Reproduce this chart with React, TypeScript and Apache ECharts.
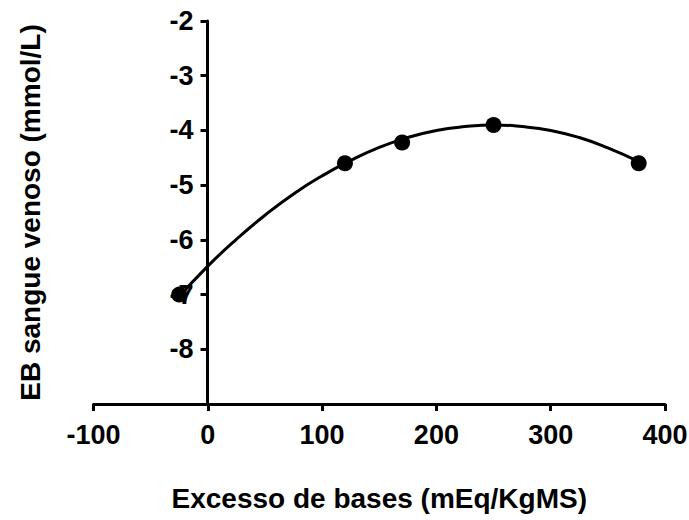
import React, { useEffect, useRef } from "react";
import * as echarts from "echarts";

const pointX = [-25, 120, 170, 250, 377];
const pointY = [-7.0, -4.6, -4.22, -3.9, -4.6];

const curveX = [-27, 0, 25, 50, 75, 100, 125, 150, 175, 200, 225, 250, 275, 300, 325, 350, 378];
const curveY = [-7.08, -6.48, -5.99, -5.55, -5.16, -4.83, -4.55, -4.31, -4.13, -4.0, -3.93, -3.9, -3.93, -4.0, -4.13, -4.32, -4.58];

const xTitle = "Excesso de bases (mEq/KgMS)";
const yTitle = "EB sangue venoso (mmol/L)";

export default function App() {
  const ref = useRef<HTMLDivElement>(null);
  useEffect(() => {
    if (!ref.current) return;
    const chart = echarts.init(ref.current, null, { renderer: "svg" });
    const font = "'Liberation Sans', Arial, sans-serif";
    chart.setOption({
      animation: false,
      backgroundColor: "#ffffff",
      grid: { left: 93.5, right: 24, top: 21, bottom: 116, containLabel: false, outerBoundsMode: "none" },
      xAxis: {
        type: "value",
        min: -100,
        max: 400,
        interval: 100,
        name: xTitle,
        nameLocation: "middle",
        nameGap: 80,
        nameTextStyle: { fontFamily: font, fontWeight: "bold", fontSize: 28, color: "#000" },
        axisLine: { onZero: false, lineStyle: { color: "#000", width: 3 } },
        axisTick: { length: 7, lineStyle: { color: "#000", width: 3 } },
        axisLabel: { margin: 17, fontFamily: font, fontWeight: "bold", fontSize: 27, color: "#000" },
        splitLine: { show: false },
      },
      yAxis: {
        type: "value",
        min: -9,
        max: -2,
        interval: 1,
        offset: -114,
        name: yTitle,
        nameLocation: "middle",
        nameGap: 163,
        nameTextStyle: { fontFamily: font, fontWeight: "bold", fontSize: 28, color: "#000" },
        axisLine: { onZero: false, lineStyle: { color: "#000", width: 3 } },
        axisTick: { length: 7, lineStyle: { color: "#000", width: 3 } },
        axisLabel: {
          margin: 14,
          fontFamily: font,
          fontWeight: "bold",
          fontSize: 27,
          color: "#000",
          formatter: (v: number) => (v === -9 ? "" : String(v)),
        },
        splitLine: { show: false },
      },
      series: [
        {
          type: "line",
          data: curveX.map((x, i) => [x, curveY[i]]),
          smooth: true,
          showSymbol: false,
          symbol: "none",
          lineStyle: { color: "#000", width: 3 },
          z: 2,
        },
        {
          type: "scatter",
          data: pointX.map((x, i) => [x, pointY[i]]),
          symbol: "circle",
          symbolSize: 16,
          itemStyle: { color: "#000", opacity: 1 },
          z: 3,
        },
      ],
    });
    return () => chart.dispose();
  }, []);
  return <div ref={ref} style={{ width: 689, height: 520, position: "absolute", left: 0, top: 0 }} />;
}
